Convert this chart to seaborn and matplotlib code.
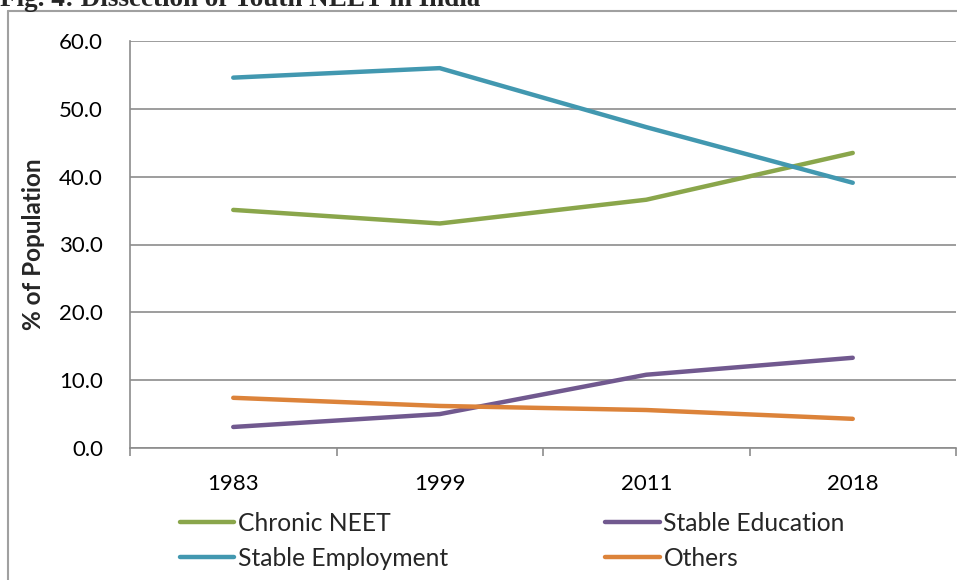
import matplotlib
matplotlib.use("Agg")
import matplotlib.pyplot as plt
from matplotlib.lines import Line2D
import seaborn as sns
import pandas as pd

years = ["1983", "1999", "2011", "2018"]
chronic_neet = [35.1, 33.1, 36.6, 43.5]
stable_employment = [54.6, 56.0, 47.3, 39.1]
stable_education = [3.1, 5.0, 10.8, 13.3]
others = [7.4, 6.2, 5.6, 4.3]

series_names = ["Chronic NEET", "Stable Employment", "Stable Education", "Others"]
series_values = [chronic_neet, stable_employment, stable_education, others]
colors = ["#8aa64b", "#4298b0", "#71598f", "#dc833a"]

rows = []
for name, vals in zip(series_names, series_values):
    for i, (yr, v) in enumerate(zip(years, vals)):
        rows.append({"pos": i, "year": yr, "series": name, "value": v})
df = pd.DataFrame(rows)

sns.set_style("white")
plt.rcParams["font.family"] = ["Lato", "DejaVu Sans"]

DPI = 100
fig = plt.figure(figsize=(9.57, 5.80), dpi=DPI)
W, H = 957, 580
ax = fig.add_axes([130 / W, 1 - 448 / H, (956 - 130) / W, (448 - 41) / H])

LW = 3.2
sns.lineplot(data=df, x="pos", y="value", hue="series", hue_order=series_names,
             palette=colors, linewidth=LW, ax=ax, legend=False,
             solid_capstyle="round")

grid_c = "#8c8c8c"
ax.set_xlim(-0.5, 3.5)
ax.set_ylim(0, 60)
ax.set_yticks(range(0, 61, 10))
ax.set_yticklabels([f"{v:.1f}" for v in range(0, 61, 10)])
ax.yaxis.grid(True, color=grid_c, linewidth=1.2)
ax.xaxis.grid(False)
ax.set_axisbelow(True)

ax.set_xticks(range(len(years)))
ax.set_xticklabels(years)
ax.set_xticks([-0.5, 0.5, 1.5, 2.5, 3.5], minor=True)
ax.tick_params(axis="x", which="major", length=0, pad=18.5, labelsize=16, colors="black")
ax.tick_params(axis="x", which="minor", length=6, width=1.2, color=grid_c, direction="out")
ax.tick_params(axis="y", which="major", length=6.5, width=1.2, color=grid_c,
               direction="out", pad=13, labelsize=16, labelcolor="black")
ax.tick_params(axis="x", bottom=True, which="both")

for side in ["top", "right"]:
    ax.spines[side].set_visible(False)
for side in ["left", "bottom"]:
    ax.spines[side].set_color(grid_c)
    ax.spines[side].set_linewidth(1.2)

ax.set_xlabel("")
ax.set_ylabel("% of Population", fontsize=17.5, fontweight="bold", labelpad=10)

# outer frame of the figure panel
fig.add_artist(Line2D([8 / W, 8 / W], [0, 1 - 11 / H], color="#a0a0a0", linewidth=1.5,
                      transform=fig.transFigure))
fig.add_artist(Line2D([8 / W, 1], [1 - 11 / H, 1 - 11 / H], color="#a0a0a0", linewidth=1.5,
                      transform=fig.transFigure))

fig.text(0, 1 - 6 / H, "Fig. 4: Dissection of Youth NEET in India",
         family=["Liberation Serif"], fontweight="bold", fontsize=19.5,
         ha="left", va="baseline")

handles = [Line2D([], [], color=c, linewidth=LW, solid_capstyle="round") for c in colors]
fig.legend(handles, series_names, ncol=2, loc="upper left",
           bbox_to_anchor=(180 / W, 1 - 512 / H), frameon=False,
           fontsize=17.7, handlelength=2.2, handletextpad=0.16,
           columnspacing=6.4, labelspacing=0.49, borderpad=0, borderaxespad=0)

fig.savefig("out.png", dpi=DPI)
